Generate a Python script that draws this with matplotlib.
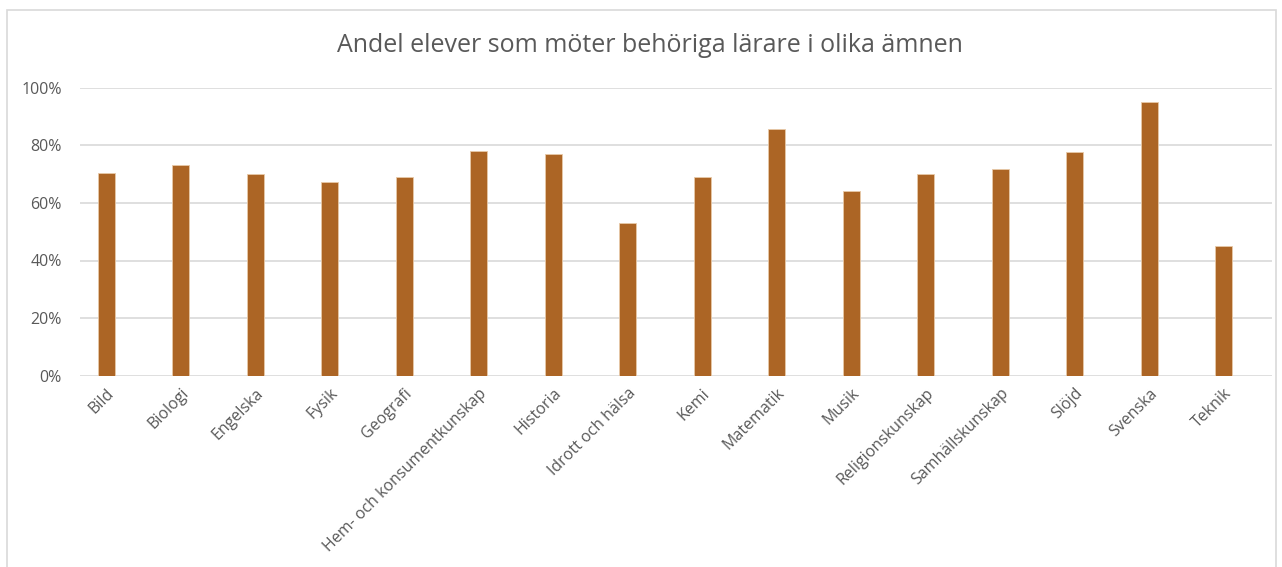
import matplotlib.pyplot as plt
from matplotlib.patches import Rectangle
from matplotlib.ticker import PercentFormatter

amnen = ["Bild", "Biologi", "Engelska", "Fysik", "Geografi",
         "Hem- och konsumentkunskap", "Historia", "Idrott och hälsa", "Kemi",
         "Matematik", "Musik", "Religionskunskap", "Samhällskunskap", "Slöjd",
         "Svenska", "Teknik"]
andel = [0.705, 0.733, 0.701, 0.674, 0.691, 0.781, 0.771, 0.531, 0.691,
         0.858, 0.642, 0.701, 0.719, 0.778, 0.951, 0.451]

plt.rcParams['font.family'] = ['Open Sans', 'DejaVu Sans']
textfarg = '#595959'

fig = plt.figure(figsize=(12.82, 5.67), dpi=100)
ax = fig.add_axes([80/1282, 191.3/567, 1192/1282, 288/567])

# chart frame (like an Excel chart area)
fig.patches.append(Rectangle((7/1282, -0.1), 1269/1282, 1.1 - 10/567,
                             transform=fig.transFigure, fill=False,
                             edgecolor='#d9d9d9', linewidth=1.2))

x = range(len(amnen))
ax.bar(x, andel, width=0.23, color='#ac6525', edgecolor='#e8c9a8',
       linewidth=0.6, zorder=3)

ax.set_ylim(0, 1)
ax.set_xlim(-0.35, 15.65)
ax.set_yticks([0, 0.2, 0.4, 0.6, 0.8, 1.0])
ax.yaxis.set_major_formatter(PercentFormatter(1.0, decimals=0))
ax.grid(axis='y', color='#d9d9d9', linewidth=1.2, zorder=0)
for s in ax.spines.values():
    s.set_visible(False)
ax.tick_params(length=0, colors=textfarg, labelsize=11.5)
ax.tick_params(axis='y', pad=13)
ax.tick_params(axis='x', pad=7)
ax.set_xticks(list(x))
ax.set_xticklabels(amnen, rotation=45, ha='right', rotation_mode='anchor')

fig.text(650/1282, 1 - 46/567, "Andel elever som möter behöriga lärare i olika ämnen",
         ha='center', va='center', fontsize=18, color=textfarg)

fig.savefig("out.png", dpi=100)
